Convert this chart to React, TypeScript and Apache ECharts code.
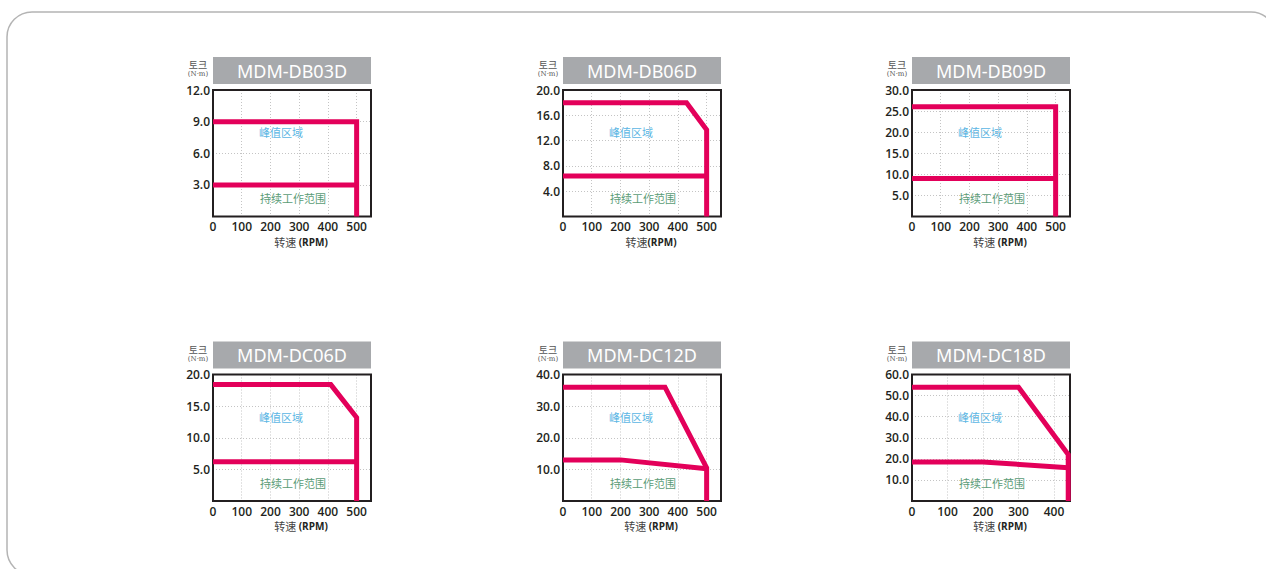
import React, { useEffect, useRef } from "react";
import * as echarts from "echarts";

// ---------- data ----------
const models = ["MDM-DB03D", "MDM-DB06D", "MDM-DB09D", "MDM-DC06D", "MDM-DC12D", "MDM-DC18D"];
const speedMax = [550, 550, 550, 550, 550, 445];
const torqueMax = [12, 20, 30, 20, 40, 60];
const torqueStep = [3, 4, 5, 5, 10, 10];
const speedStep = 100;

// [speed(RPM), torque(N·m)]
const peakDB03D = [[0, 9], [500, 9], [500, 0]];
const contDB03D = [[0, 3], [500, 3]];
const peakDB06D = [[0, 18], [430, 18], [500, 13.7], [500, 0]];
const contDB06D = [[0, 6.4], [500, 6.4]];
const peakDB09D = [[0, 26], [500, 26], [500, 0]];
const contDB09D = [[0, 9], [500, 9]];
const peakDC06D = [[0, 18.4], [410, 18.4], [500, 13.2], [500, 0]];
const contDC06D = [[0, 6.2], [500, 6.2]];
const peakDC12D = [[0, 36], [355, 36], [500, 10.5], [500, 0]];
const contDC12D = [[0, 13], [200, 13], [500, 10.2]];
const peakDC18D = [[0, 54], [300, 54], [440, 22], [440, 0]];
const contDC18D = [[0, 18.5], [200, 18.5], [440, 15.8]];

const peakCurves = [peakDB03D, peakDB06D, peakDB09D, peakDC06D, peakDC12D, peakDC18D];
const contCurves = [contDB03D, contDB06D, contDB09D, contDC06D, contDC12D, contDC18D];

const peakLabel = "峰值区域";
const contLabel = "持续工作范围";
const torqueName = "토크";
const torqueUnit = "(N·m)";
const speedNames = ["转速 ", "转速", "转速 ", "转速 ", "转速 ", "转速 "];
const speedUnit = "(RPM)";

// ---------- layout ----------
const colLeft = [213, 563, 912];
const rowTop = [90, 374.5];
const plotW = 158;
const plotH = 126.5;
const RED = "#E3005A";
const INK = "#231F20";

export default function App() {
  const ref = useRef<HTMLDivElement>(null);

  useEffect(() => {
    if (!ref.current) return;
    const chart = echarts.init(ref.current, undefined, { renderer: "svg" });

    const grids: any[] = [];
    const xAxes: any[] = [];
    const yAxes: any[] = [];
    const series: any[] = [];
    const graphics: any[] = [];

    graphics.push({
      type: "rect",
      silent: true,
      shape: { x: 7, y: 12, width: 1269, height: 563, r: 25 },
      style: { fill: "none", stroke: "#B4B4B4", lineWidth: 1.5 },
    });

    models.forEach((m, i) => {
      const L = colLeft[i % 3];
      const T = rowTop[Math.floor(i / 3)];
      grids.push({ left: L, top: T, width: plotW, height: plotH, show: false });
      xAxes.push({
        type: "value", gridIndex: i, min: 0, max: speedMax[i], interval: speedStep,
        axisLine: { show: false }, axisTick: { show: false },
        axisLabel: {
          margin: 4, color: INK, fontSize: 12, fontWeight: 600, fontFamily: "Open Sans",
        },
        splitLine: { show: true, lineStyle: { color: "#C4C4C4", type: [1, 2], width: 1 } },
      });
      yAxes.push({
        type: "value", gridIndex: i, min: 0, max: torqueMax[i], interval: torqueStep[i],
        axisLine: { show: false }, axisTick: { show: false },
        axisLabel: {
          margin: 3, color: INK, fontSize: 12, fontWeight: 600, fontFamily: "Open Sans",
          formatter: (v: number) => (v === 0 ? "" : v.toFixed(1)),
        },
        splitLine: { show: true, lineStyle: { color: "#C4C4C4", type: [1, 2], width: 1 } },
      });
      series.push({
        type: "line", xAxisIndex: i, yAxisIndex: i, data: peakCurves[i],
        showSymbol: false, symbol: "none", z: 5,
        lineStyle: { color: RED, width: 5, join: "miter", cap: "butt" },
      });
      series.push({
        type: "line", xAxisIndex: i, yAxisIndex: i, data: contCurves[i],
        showSymbol: false, symbol: "none", z: 5,
        lineStyle: { color: RED, width: 5, join: "miter", cap: "butt" },
      });

      // plot frame
      graphics.push({
        type: "rect", silent: true, z: 1,
        shape: { x: L, y: T, width: plotW, height: plotH },
        style: { fill: "none", stroke: INK, lineWidth: 2 },
      });
      // title bar
      graphics.push({
        type: "rect", silent: true,
        shape: { x: L, y: T - 33, width: plotW, height: 27 },
        style: { fill: "#A7A9AC" },
      });
      graphics.push({
        type: "text", silent: true, x: L + plotW / 2, y: T - 19.5,
        style: {
          text: m, fill: "#FFFFFF", fontSize: 18, fontFamily: "Noto Sans",
          align: "center", verticalAlign: "middle",
        },
      });
      // torque unit
      graphics.push({
        type: "text", silent: true, x: L - 15, y: T - 25.5,
        style: {
          text: torqueName, fill: "#555555", fontSize: 10, lineHeight: 9,
          fontFamily: "Noto Sans CJK KR", align: "center", verticalAlign: "middle",
        },
      });
      graphics.push({
        type: "text", silent: true, x: L - 15, y: T - 16,
        style: {
          text: torqueUnit, fill: "#555555", fontSize: 7, lineHeight: 7,
          fontFamily: "DejaVu Serif", align: "center", verticalAlign: "middle",
        },
      });
      // zone labels
      graphics.push({
        type: "text", silent: true, x: L + 68, y: T + 42,
        style: {
          text: peakLabel, fill: "#5BB6E4", fontSize: 11, fontFamily: "Noto Sans CJK SC",
          align: "center", verticalAlign: "middle",
        },
      });
      graphics.push({
        type: "text", silent: true, x: L + 80, y: T + 108,
        style: {
          text: contLabel, fill: "#5A9C76", fontSize: 11, fontFamily: "Noto Sans CJK SC",
          align: "center", verticalAlign: "middle",
        },
      });
      // speed axis name
      graphics.push({
        type: "text", silent: true, x: L + 88, y: T + plotH + 25,
        style: {
          text: "{a|" + speedNames[i] + "}{b|" + speedUnit + "}",
          align: "center", verticalAlign: "middle",
          rich: {
            a: { fontSize: 11, fill: "#444444", fontFamily: "Noto Sans CJK SC" },
            b: { fontSize: 10, fill: INK, fontWeight: 700, fontFamily: "Open Sans" },
          },
        },
      });
    });

    chart.setOption({
      animation: false,
      backgroundColor: "#FFFFFF",
      grid: grids,
      xAxis: xAxes,
      yAxis: yAxes,
      series,
      graphic: graphics,
    });

    return () => chart.dispose();
  }, []);

  return (
    <div
      ref={ref}
      style={{ position: "fixed", left: 0, top: 0, width: 1266, height: 569, background: "#fff" }}
    />
  );
}
